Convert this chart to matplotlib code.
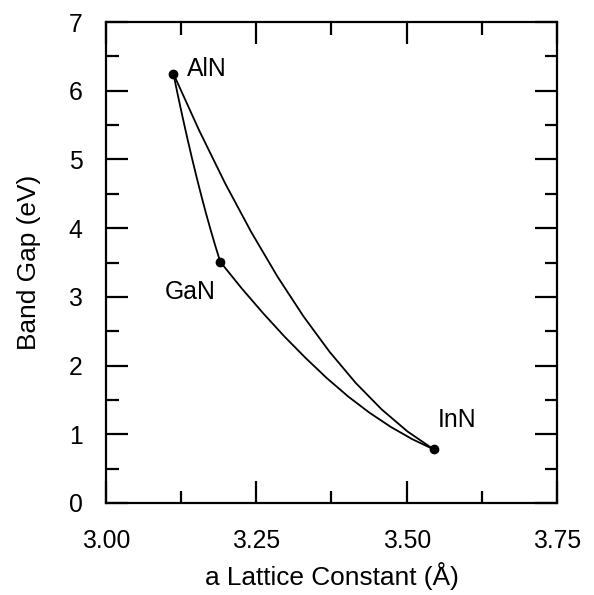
import matplotlib
matplotlib.use("Agg")
import matplotlib.pyplot as plt
from matplotlib.ticker import MultipleLocator

plt.rcParams['font.family'] = ['Liberation Sans', 'DejaVu Sans']

# Endpoint compounds
compounds = ["AlN", "GaN", "InN"]
lattice = [3.112, 3.190, 3.545]
gap = [6.25, 3.51, 0.78]

# AlGaN curve
algan_a = [3.190, 3.1822, 3.1744, 3.1666, 3.1588, 3.151, 3.1432, 3.1354, 3.1276, 3.1198, 3.112]
algan_e = [3.51, 3.730, 3.962, 4.206, 4.462, 4.73, 5.010, 5.302, 5.606, 5.922, 6.25]

# InGaN curve
ingan_a = [3.190, 3.2255, 3.261, 3.2965, 3.332, 3.3675, 3.403, 3.4385, 3.474, 3.5095, 3.545]
ingan_e = [3.51, 3.125, 2.765, 2.425, 2.110, 1.815, 1.548, 1.312, 1.105, 0.928, 0.78]

# AlInN curve
alinn_a = [3.112, 3.1553, 3.1986, 3.2419, 3.2852, 3.3285, 3.3718, 3.4151, 3.4584, 3.5017, 3.545]
alinn_e = [6.25, 5.415, 4.644, 3.937, 3.294, 2.715, 2.200, 1.749, 1.362, 1.039, 0.78]

x_ticks = [3.00, 3.25, 3.50, 3.75]
x_tick_labels = ["3.00", "3.25", "3.50", "3.75"]
y_ticks = [0, 1, 2, 3, 4, 5, 6, 7]

fig = plt.figure(figsize=(5.94, 5.95), dpi=100)
ax = fig.add_axes([106/594, 1 - 503/595, (557-106)/594, (503-22)/595])

lw = 1.3
ax.plot(algan_a, algan_e, color='black', lw=lw)
ax.plot(ingan_a, ingan_e, color='black', lw=lw)
ax.plot(alinn_a, alinn_e, color='black', lw=lw)
ax.plot(lattice, gap, linestyle='none', marker='o', color='black', markersize=6, zorder=5)

fs = 17.8
lfs = 18.9
label_pos = {"AlN": (3.135, 6.32, 'left'), "GaN": (3.098, 3.07, 'left'), "InN": (3.551, 1.21, 'left')}
for name in compounds:
    x, y, ha = label_pos[name]
    ax.text(x, y, name, fontsize=fs, ha=ha, va='center')

ax.set_xlim(3.0, 3.75)
ax.set_ylim(0, 7)
ax.set_xticks(x_ticks)
ax.set_xticklabels(x_tick_labels)
ax.set_yticks(y_ticks)
ax.xaxis.set_minor_locator(MultipleLocator(0.125))
ax.yaxis.set_minor_locator(MultipleLocator(0.5))
ax.tick_params(which='both', direction='in', top=True, right=True, width=1.6)
ax.tick_params(which='major', length=16)
ax.tick_params(which='minor', length=9)
ax.tick_params(axis='x', which='major', pad=19, labelsize=fs)
ax.tick_params(axis='y', which='major', pad=17, labelsize=fs)
for s in ax.spines.values():
    s.set_linewidth(1.6)

ax.set_xlabel("a Lattice Constant (Å)", fontsize=lfs, labelpad=6)
ax.set_ylabel("Band Gap (eV)", fontsize=lfs, labelpad=20)

fig.savefig("out.png", dpi=100)
